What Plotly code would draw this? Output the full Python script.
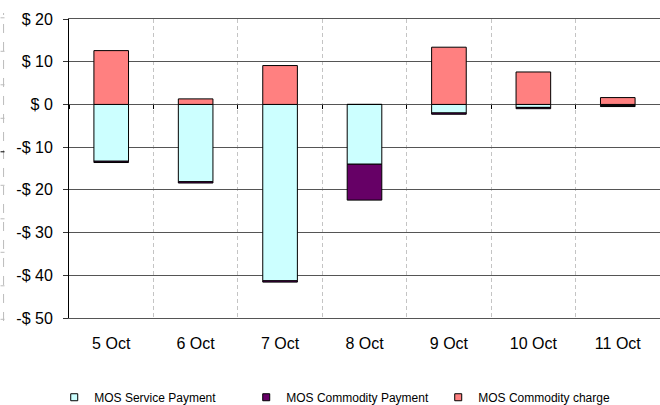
import plotly.graph_objects as go

categories = ["5 Oct", "6 Oct", "7 Oct", "8 Oct", "9 Oct", "10 Oct", "11 Oct"]
service_payment = [-13.3, -18.1, -41.3, -14.0, -2.0, -0.7, -0.3]
commodity_payment = [-0.3, -0.3, -0.3, -8.4, -0.3, -0.3, -0.2]
commodity_charge = [12.6, 1.3, 9.1, 0.0, 13.4, 7.6, 1.6]
y_tickvals = [20, 10, 0, -10, -20, -30, -40, -50]
y_ticktext = ["$ 20", "$ 10", "$ 0", "-$ 10", "-$ 20", "-$ 30", "-$ 40", "-$ 50"]

series = [
    ("MOS Service Payment", service_payment, "#CCFFFF"),
    ("MOS Commodity Payment", commodity_payment, "#660066"),
    ("MOS Commodity charge", commodity_charge, "#FF8080"),
]

FONT = "Liberation Sans, Arial, sans-serif"
line = dict(color="#000000", width=1)

fig = go.Figure()
for name, vals, col in series:
    fig.add_trace(go.Bar(name=name, x=categories, y=vals, showlegend=False,
                         marker=dict(color=col, line=line), width=0.41))
for i, (name, vals, col) in enumerate(series):
    # legend entries with small square keys
    fig.add_trace(go.Scatter(name=name, x=[None], y=[None], mode="markers",
                             marker=dict(symbol="square", size=7, color=col,
                                         line=dict(color="#000", width=1))))
# invisible helper trace for the tick marks on the zero line
fig.add_trace(go.Scatter(x=categories, y=[None] * len(categories), xaxis="x2",
                         showlegend=False, hoverinfo="skip", mode="markers"))

ymin, ymax = -50, 20
zero_pos = (0 - ymin) / (ymax - ymin)

fig.update_layout(
    width=660, height=405,
    margin=dict(l=68.5, r=0, t=19.3, b=86.7, autoexpand=False),
    paper_bgcolor="white", plot_bgcolor="white",
    barmode="relative", bargap=0.59,
    font=dict(family=FONT, color="#000000"),
    xaxis=dict(type="category", categoryarray=categories, range=[-0.5, 6.5],
               tickson="boundaries", showgrid=True, gridcolor="#C4C4C4",
               griddash="4px,3px", gridwidth=1, ticks="", ticklabelstandoff=11,
               tickfont=dict(size=16, family=FONT, color="#000"),
               showline=True, mirror=True, linecolor="#555555", linewidth=1,
               zeroline=False, fixedrange=True),
    xaxis2=dict(type="category", categoryarray=categories, range=[-0.5, 6.5],
                overlaying="x", anchor="free", position=zero_pos,
                tickson="boundaries", ticks="outside", ticklen=4, tickcolor="#000",
                showticklabels=False, showgrid=False, showline=False, zeroline=False),
    yaxis=dict(range=[ymin, ymax], tickvals=y_tickvals, ticktext=y_ticktext,
               showgrid=True, gridcolor="#555555", gridwidth=1,
               zeroline=True, zerolinecolor="#555555", zerolinewidth=1,
               showline=True, linecolor="#000000", linewidth=1,
               ticks="outside", ticklen=5, tickcolor="#333333", ticklabelstandoff=7,
               tickfont=dict(size=16, family=FONT, color="#000")),
    legend=dict(orientation="h", x=-0.025, xanchor="left", y=-0.265, yanchor="middle",
                font=dict(size=12, family=FONT, color="#000"),
                itemwidth=30, traceorder="normal",
                entrywidth=147, entrywidthmode="pixels"),
)

# remnants of a neighbouring chart at the left edge
shapes = [dict(type="line", xref="paper", yref="paper", x0=-0.1107, x1=-0.1107,
               y0=-0.01, y1=1.02, line=dict(color="#BBBBBB", width=1, dash="dash"))]
for i in range(10):
    yy = 1.004 - i * 33.5 / 299
    col = "#000000" if i == 4 else "#BBBBBB"
    shapes.append(dict(type="line", xref="paper", yref="paper", x0=-0.1158, x1=-0.1091,
                       y0=yy, y1=yy, line=dict(color=col, width=1)))
fig.update_layout(shapes=shapes)

fig.write_html("out.html", config={"displayModeBar": False},
               post_script="document.body.style.margin='0';document.body.style.overflow='hidden';")
